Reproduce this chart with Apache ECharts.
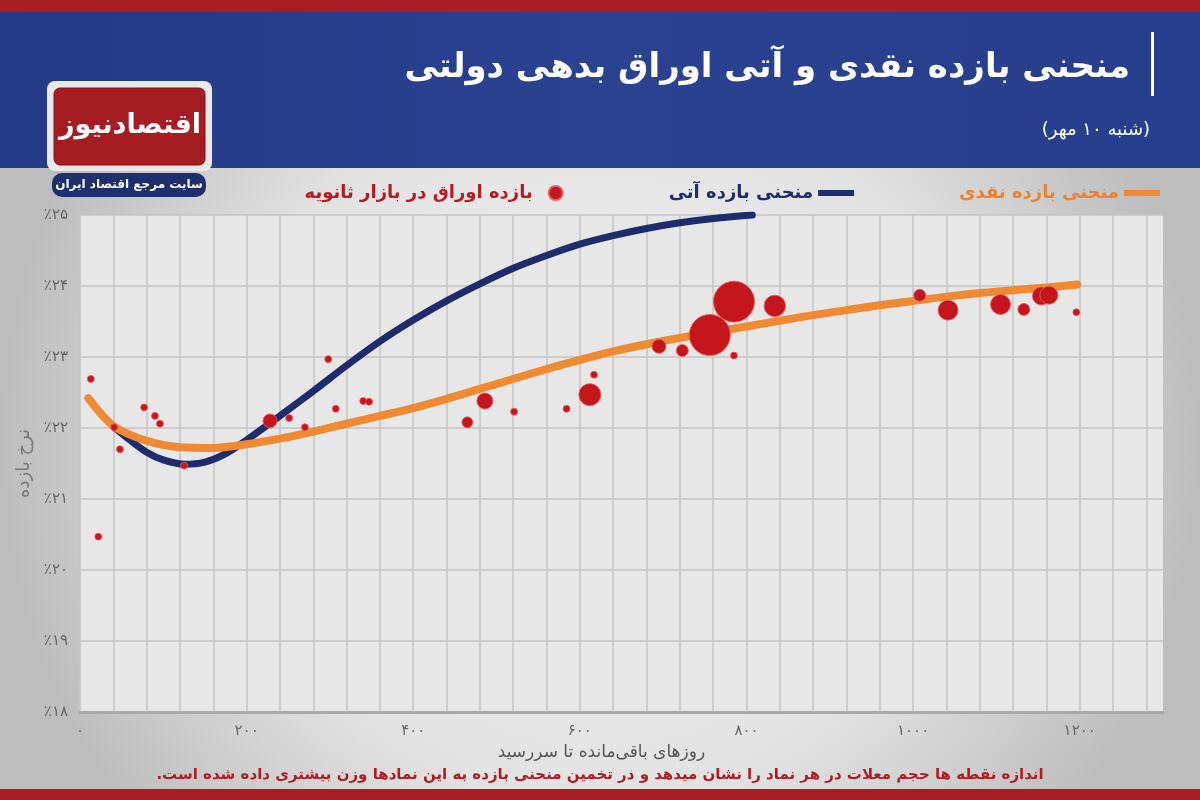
<!DOCTYPE html>
<html>
<head>
<meta charset="utf-8">
<script src="https://cdn.jsdelivr.net/npm/echarts@6/dist/echarts.min.js"></script>
<style>
html,body{margin:0;padding:0;width:1200px;height:800px;overflow:hidden;background:#ddd;}
#chart{width:1200px;height:800px;}
</style>
</head>
<body>
<div id="chart"></div>
<script>
// ---- Data ----
const titleText = 'منحنی بازده نقدی و آتی اوراق بدهی دولتی';
const subtitleText = '(شنبه ۱۰ مهر)';
const footerText = 'اندازه نقطه ها حجم معلات در هر نماد را نشان میدهد و در تخمین منحنی بازده به این نمادها وزن بیشتری داده شده است.';
const xAxisName = 'روزهای باقی‌مانده تا سررسید';
const yAxisName = 'نرخ بازده';
const logoText = 'اقتصادنیوز';
const logoTagline = 'سایت مرجع اقتصاد ایران';
const seriesNames = ['منحنی بازده نقدی', 'منحنی بازده آتی', 'بازده اوراق در بازار ثانویه'];

// Spot (cash) yield curve: days to maturity, yield %
const spotDays   = [10, 40, 80, 120, 160, 200, 240, 280, 320, 360, 400, 440, 480, 520, 560, 600, 640, 680, 720, 760, 800, 840, 880, 920, 960, 1000, 1040, 1080, 1120, 1160, 1197];
const spotYields = [22.42, 22.03, 21.82, 21.73, 21.72, 21.77, 21.85, 21.95, 22.06, 22.17, 22.28, 22.41, 22.55, 22.69, 22.83, 22.96, 23.08, 23.18, 23.27, 23.35, 23.43, 23.51, 23.59, 23.66, 23.73, 23.79, 23.85, 23.90, 23.94, 23.98, 24.02];

// Forward yield curve
const fwdDays   = [41, 60, 80, 100, 125, 150, 175, 200, 240, 280, 320, 360, 400, 440, 480, 520, 560, 600, 640, 680, 720, 760, 807];
const fwdYields = [22.01, 21.83, 21.66, 21.55, 21.49, 21.52, 21.64, 21.83, 22.17, 22.52, 22.88, 23.22, 23.52, 23.79, 24.03, 24.25, 24.43, 24.59, 24.71, 24.81, 24.89, 24.95, 25.00];

// Secondary-market bonds: days to maturity, yield %, trading volume (relative)
const bondDays    = [13, 22, 41, 48, 77, 90, 96, 125, 228, 251, 270, 298, 307, 340, 347, 465, 486, 521, 584, 612, 617, 695, 723, 756, 785, 785, 834, 1008, 1042, 1105, 1133, 1154, 1163, 1196];
const bondYields  = [22.69, 20.47, 22.01, 21.70, 22.29, 22.17, 22.06, 21.47, 22.10, 22.14, 22.01, 22.97, 22.27, 22.38, 22.37, 22.08, 22.38, 22.23, 22.27, 22.47, 22.75, 23.15, 23.09, 23.31, 23.78, 23.02, 23.72, 23.87, 23.66, 23.74, 23.67, 23.86, 23.87, 23.63];
const bondVolumes = [12, 12, 12, 12, 12, 12, 12, 12, 49, 12, 12, 12, 12, 12, 12, 30, 64, 12, 12, 121, 12, 49, 36, 420, 420, 12, 115, 36, 100, 100, 36, 81, 81, 12];

// Axis ticks
const yTicks = [18, 19, 20, 21, 22, 23, 24, 25];
const xLabelStep = 200;

// ---- helpers ----
const fa = s => String(s).replace(/\d/g, d => '۰۱۲۳۴۵۶۷۸۹'[d]);
const rtl = s => '\u202B' + s + '\u202C';
const FONT = '"DejaVu Sans", "Noto Sans", sans-serif';

const spotData = spotDays.map((d, i) => [d, spotYields[i]]);
const fwdData = fwdDays.map((d, i) => [d, fwdYields[i]]);
const bondData = bondDays.map((d, i) => [d, bondYields[i], bondVolumes[i]]);

const chart = echarts.init(document.getElementById('chart'));

const option = {
  backgroundColor: 'transparent',
  textStyle: { fontFamily: FONT },
  graphic: [
    // page background
    { type: 'rect', z: -20, silent: true, shape: { x: 0, y: 0, width: 1200, height: 800 },
      style: { fill: { type: 'radial', x: 0.5, y: 0.55, r: 0.75,
        colorStops: [{ offset: 0, color: '#f3f3f3' }, { offset: 0.6, color: '#e2e2e2' }, { offset: 1, color: '#bdbdbd' }] } } },
    // blue banner
    { type: 'rect', z: -19, silent: true, shape: { x: 0, y: 10, width: 1200, height: 158 },
      style: { fill: { type: 'linear', x: 0, y: 0, x2: 1, y2: 0,
        colorStops: [{ offset: 0, color: '#243a86' }, { offset: 0.5, color: '#2a4290' }, { offset: 1, color: '#263e8b' }] } } },
    // top red bar
    { type: 'rect', z: -18, silent: true, shape: { x: 0, y: 0, width: 1200, height: 12 }, style: { fill: '#a81d24' } },
    // bottom red bar
    { type: 'rect', z: -18, silent: true, shape: { x: 0, y: 789, width: 1200, height: 11 }, style: { fill: '#a81d24' } },
    // title bar
    { type: 'rect', z: 5, silent: true, shape: { x: 1151, y: 32, width: 3, height: 64 }, style: { fill: '#ffffff' } },
    { type: 'text', z: 5, silent: true, x: 1130, y: 68,
      style: { text: titleText, fill: '#ffffff', font: 'bold 34px ' + FONT, align: 'right', verticalAlign: 'middle' } },
    { type: 'text', z: 5, silent: true, x: 1150, y: 130,
      style: { text: rtl(subtitleText), fill: '#ffffff', font: '18px ' + FONT, align: 'right', verticalAlign: 'middle' } },
    // logo
    { type: 'rect', z: 5, silent: true, shape: { x: 47, y: 81, width: 165, height: 90, r: 8 }, style: { fill: '#e9e9e9' } },
    { type: 'rect', z: 6, silent: true, shape: { x: 54, y: 88, width: 151, height: 77, r: 6 }, style: { fill: '#a51c22', stroke: '#7d1217', lineWidth: 1 } },
    { type: 'text', z: 7, silent: true, x: 130, y: 126,
      style: { text: logoText, fill: '#ffffff', font: 'bold 27px ' + FONT, align: 'center', verticalAlign: 'middle' } },
    { type: 'rect', z: 6, silent: true, shape: { x: 52, y: 173, width: 154, height: 24, r: 10 }, style: { fill: '#1f2f6d' } },
    { type: 'text', z: 7, silent: true, x: 129, y: 185,
      style: { text: logoTagline, fill: '#ffffff', font: 'bold 12px ' + FONT, align: 'center', verticalAlign: 'middle' } },
    // footer note
    { type: 'text', z: 5, silent: true, x: 600, y: 775,
      style: { text: rtl(footerText), fill: '#b01c22', font: 'bold 15px ' + FONT, align: 'center', verticalAlign: 'middle' } }
  ],
  legend: {
    right: 35, top: 179,
    align: 'right',
    itemWidth: 36, itemHeight: 14, itemGap: 105,
    textStyle: { fontSize: 18, fontWeight: 'bold', fontFamily: FONT },
    data: [
      { name: seriesNames[2], icon: 'circle', textStyle: { color: '#b71c22' } },
      { name: seriesNames[1], icon: 'path://M0,0 L36,0 L36,6 L0,6 Z', textStyle: { color: '#1f2d6e' } },
      { name: seriesNames[0], icon: 'path://M0,0 L36,0 L36,6 L0,6 Z', textStyle: { color: '#ec8230' } }
    ]
  },
  grid: { left: 80, right: 37, top: 215, bottom: 88, show: true, backgroundColor: '#e7e7e7', borderWidth: 0 },
  xAxis: {
    type: 'value', min: 0, max: 1300, interval: 40,
    name: xAxisName, nameLocation: 'middle', nameGap: 30,
    nameTextStyle: { color: '#555', fontSize: 17, padding: [0, 40, 0, 0] },
    axisLine: { show: true, onZero: false, lineStyle: { color: '#a9a9a9', width: 3 } },
    axisTick: { show: false },
    axisLabel: { color: '#666', fontSize: 15, margin: 12,
      formatter: v => (v % xLabelStep === 0 && v <= 1200) ? fa(v) : '' },
    splitLine: { show: true, showMaxLine: false, lineStyle: { color: '#c4c4c4', width: 1.5 } }
  },
  yAxis: {
    type: 'value', min: yTicks[0], max: yTicks[yTicks.length - 1], interval: 1,
    name: yAxisName, nameLocation: 'middle', nameGap: 44, nameRotate: 90,
    nameTextStyle: { color: '#777', fontSize: 18 },
    axisLine: { show: false },
    axisTick: { show: false },
    axisLabel: { color: '#666', fontSize: 15, margin: 12, formatter: v => '٪' + fa(v) },
    splitLine: { show: true, lineStyle: { color: '#c4c4c4', width: 1.5 } }
  },
  series: [
    { name: seriesNames[0], type: 'line', data: spotData, smooth: 0.3, showSymbol: false, symbol: 'none',
      lineStyle: { color: '#ef8a33', width: 8, cap: 'round' }, itemStyle: { color: '#ef8a33' }, z: 3 },
    { name: seriesNames[1], type: 'line', data: fwdData, smooth: 0.3, showSymbol: false, symbol: 'none',
      lineStyle: { color: '#1e2b6c', width: 7, cap: 'round' }, itemStyle: { color: '#1e2b6c' }, z: 2 },
    { name: seriesNames[2], type: 'scatter', data: bondData,
      symbolSize: v => 2 * Math.sqrt(v[2]),
      itemStyle: { color: '#c5161d', borderColor: 'rgba(235,90,90,0.85)', borderWidth: 1, opacity: 1 }, z: 4 }
  ]
};
chart.setOption(option);
</script>
</body>
</html>
